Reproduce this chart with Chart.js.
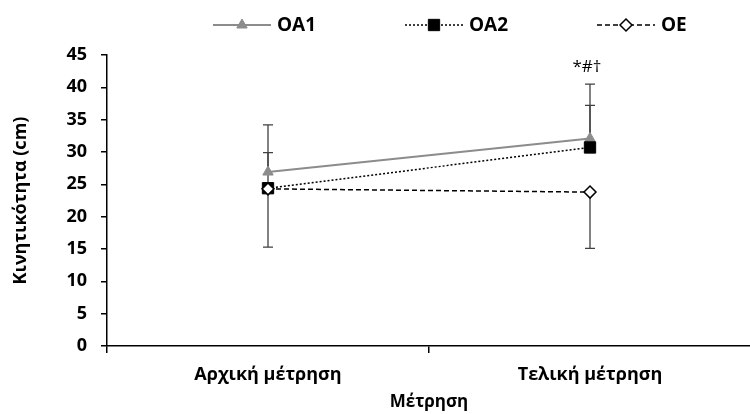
<!DOCTYPE html>
<html>
<head>
<meta charset="utf-8">
<script src="https://cdn.jsdelivr.net/npm/chart.js@4/dist/chart.umd.min.js"></script>
<style>
html, body { margin: 0; padding: 0; overflow: hidden; background: #fff; width: 750px; height: 414px; }
#wrap { width: 760px; height: 414px; position: relative; }
</style>
</head>
<body>
<div id="wrap"><canvas id="c"></canvas></div>
<script>
// ---- data ----
const categories = ['Αρχική μέτρηση', 'Τελική μέτρηση'];
const seriesNames = ['OA1', 'OA2', 'OE'];
const oa1Values = [26.9, 32.1];
const oa1Sd = [7.3, 8.4];
const oa2Values = [24.4, 30.7];
const oa2Sd = [5.5, 6.5];
const oeValues = [24.3, 23.8];
const oeSd = [9.0, 8.7];
const significance = ['', '*#†'];
const yMin = 0, yMax = 45, yStep = 5;
const xTitle = 'Μέτρηση';
const yTitle = 'Κινητικότητα (cm)';

const FONT = "'Open Sans', 'DejaVu Sans', sans-serif";
Chart.defaults.font.family = FONT;
Chart.defaults.color = '#000';

const errorBarPlugin = {
  id: 'errorBars',
  beforeDatasetsDraw(chart) {
    const ctx = chart.ctx;
    const ys = chart.scales.y;
    ctx.save();
    ctx.strokeStyle = '#404040';
    ctx.lineWidth = 1.3;
    chart.data.datasets.forEach((ds, i) => {
      const meta = chart.getDatasetMeta(i);
      meta.data.forEach((pt, j) => {
        const v = ds.data[j];
        const end = v + ds.errDir * ds.errors[j];
        const y0 = ys.getPixelForValue(v);
        const y1 = ys.getPixelForValue(end);
        ctx.beginPath();
        ctx.moveTo(pt.x, y0);
        ctx.lineTo(pt.x, y1);
        ctx.moveTo(pt.x - 5, y1);
        ctx.lineTo(pt.x + 5, y1);
        ctx.stroke();
      });
    });
    ctx.restore();
  },
  afterDatasetsDraw(chart) {
    const ctx = chart.ctx;
    const ys = chart.scales.y;
    const xs = chart.scales.x;
    ctx.save();
    ctx.fillStyle = '#000';
    ctx.font = "17px " + FONT;
    ctx.textAlign = 'center';
    ctx.textBaseline = 'alphabetic';
    significance.forEach((txt, j) => {
      if (!txt) return;
      let top = -Infinity;
      chart.data.datasets.forEach(ds => {
        top = Math.max(top, ds.data[j] + (ds.errDir > 0 ? ds.errors[j] : 0));
      });
      ctx.fillText(txt, xs.getPixelForValue(j) - 3, ys.getPixelForValue(top) - 12);
    });
    ctx.restore();
  },
  afterDraw(chart) {
    const ctx = chart.ctx;
    const starts = [213, 405, 597];
    const y = 25;
    ctx.save();
    chart.data.datasets.forEach((ds, i) => {
      const x0 = starts[i], x1 = x0 + 58;
      ctx.save();
      ctx.strokeStyle = ds.borderColor;
      ctx.lineWidth = ds.borderWidth;
      ctx.setLineDash(ds.borderDash || []);
      ctx.beginPath();
      ctx.moveTo(x0, y);
      ctx.lineTo(x1, y);
      ctx.stroke();
      ctx.restore();
      ctx.save();
      ctx.fillStyle = ds.pointBackgroundColor;
      ctx.strokeStyle = ds.pointBorderColor;
      ctx.lineWidth = ds.pointBorderWidth;
      Chart.helpers.drawPoint(ctx, {pointStyle: ds.pointStyle, radius: ds.pointRadius, rotation: 0, borderWidth: ds.pointBorderWidth}, (x0 + x1) / 2, y);
      ctx.restore();
      ctx.fillStyle = '#000';
      ctx.font = "bold 19px " + FONT;
      ctx.textAlign = 'left';
      ctx.textBaseline = 'middle';
      ctx.fillText(ds.label, x1 + 6, y + 1);
    });
    ctx.restore();
  }
};

new Chart(document.getElementById('c'), {
  type: 'line',
  data: {
    labels: categories,
    datasets: [
      {
        label: seriesNames[0], data: oa1Values, errors: oa1Sd, errDir: 1, order: 3,
        borderColor: '#8c8c8c', borderWidth: 2, borderDash: [],
        pointStyle: 'triangle', pointRadius: 6, pointBackgroundColor: '#8c8c8c', pointBorderColor: '#8c8c8c', pointBorderWidth: 1
      },
      {
        label: seriesNames[1], data: oa2Values, errors: oa2Sd, errDir: 1, order: 2,
        borderColor: '#000', borderWidth: 1.5, borderDash: [2, 2],
        pointStyle: 'rect', pointRadius: 8, pointBackgroundColor: '#000', pointBorderColor: '#000', pointBorderWidth: 1
      },
      {
        label: seriesNames[2], data: oeValues, errors: oeSd, errDir: -1, order: 1,
        borderColor: '#000', borderWidth: 1.5, borderDash: [5, 3],
        pointStyle: 'rectRot', pointRadius: 6, pointBackgroundColor: '#fff', pointBorderColor: '#000', pointBorderWidth: 1.5
      }
    ]
  },
  options: {
    responsive: true,
    maintainAspectRatio: false,
    animation: false,
    events: [],
    layout: { padding: { top: 55, right: 0, bottom: 0, left: 0 } },
    plugins: { legend: { display: false }, tooltip: { enabled: false } },
    scales: {
      x: {
        type: 'category',
        offset: true,
        grid: { display: true, drawOnChartArea: false, offset: true, tickLength: 7, color: '#000', lineWidth: 1.5 },
        border: { display: true, color: '#000', width: 1.5 },
        ticks: { font: { size: 18, weight: 'bold' }, color: '#000', padding: 11, maxRotation: 0 },
        title: { display: true, text: xTitle, font: { size: 17, weight: 'bold' }, color: '#000', padding: { top: 0, bottom: 2 } },
        afterFit: s => { s.height = 68; }
      },
      y: {
        min: yMin, max: yMax,
        ticks: { stepSize: yStep, font: { size: 18, weight: 'bold' }, color: '#000', padding: 14 },
        grid: { display: true, drawOnChartArea: false, tickLength: 6, color: '#000', lineWidth: 1.5 },
        border: { display: true, color: '#000', width: 1.5 },
        title: { display: true, text: yTitle, font: { size: 18, weight: 'bold' }, color: '#000', padding: { top: 10, bottom: 0 } },
        afterFit: s => { s.width = 107; }
      }
    }
  },
  plugins: [errorBarPlugin]
});
</script>
</body>
</html>
